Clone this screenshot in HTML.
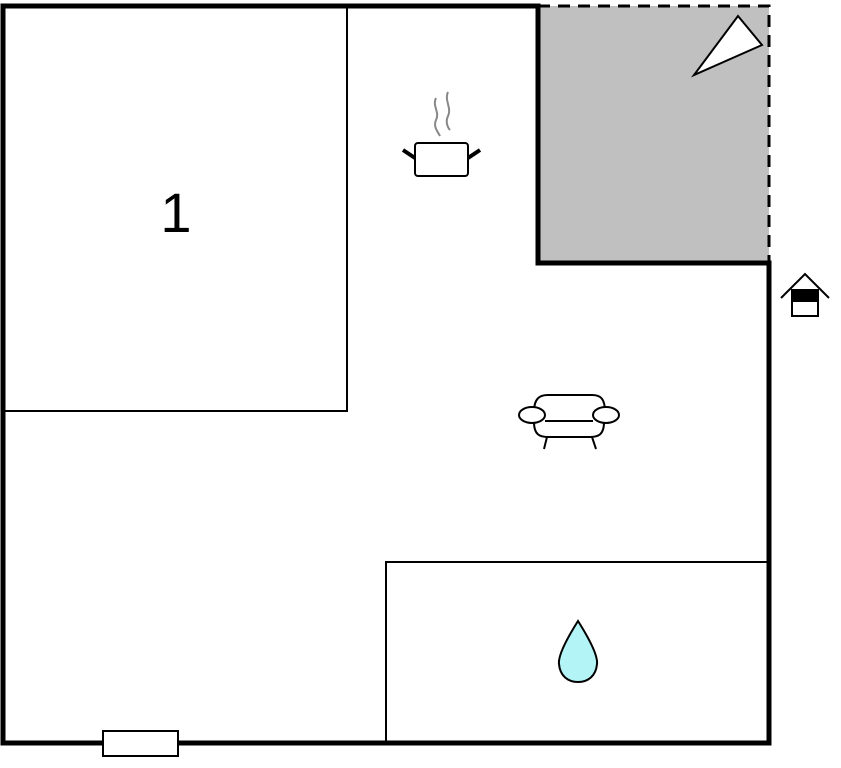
<!DOCTYPE html>
<html><head><style>body{margin:0;background:#fff}svg{display:block}</style></head><body>
<svg width="841" height="768" viewBox="0 0 841 768" xmlns="http://www.w3.org/2000/svg">
<rect x="538" y="6" width="231" height="257" fill="#c0c0c0"/>
<path d="M538 6 H769 V263" fill="none" stroke="#000" stroke-width="3" stroke-dasharray="12,8"/>
<path d="M3 6 H538 V263 H769 V743 H3 Z" fill="none" stroke="#000" stroke-width="5"/>
<rect x="4" y="7" width="343" height="404" fill="none" stroke="#000" stroke-width="2"/>
<path d="M386 743 V562 H769" fill="none" stroke="#000" stroke-width="2"/>
<text x="176" y="232" font-family="Liberation Sans, sans-serif" font-size="56" text-anchor="middle">1</text>
<rect x="103" y="731" width="75" height="25" fill="#fff" stroke="#000" stroke-width="2"/>
<path d="M578 621 C566 640 558 656 559 664 C560 676 568 682 578 682 C588 682 596 676 597 664 C598 656 590 640 578 621 Z" fill="#b3f5f7" stroke="#000" stroke-width="2"/>
<polygon points="738,16 762,45 694,75" fill="#fff" stroke="#000" stroke-width="2"/>
<path d="M781 298 L805 274 L829 298" fill="none" stroke="#000" stroke-width="2"/>
<rect x="792" y="290" width="26" height="26" fill="#fff" stroke="#000" stroke-width="2"/>
<rect x="792" y="290" width="26" height="12" fill="#000"/>
<rect x="415" y="143" width="53" height="33" rx="3" fill="#fff" stroke="#000" stroke-width="2"/>
<path d="M403 150 L415 158 M468 158 L480 150" stroke="#000" stroke-width="4"/>
<path d="M436 98 C432 106 440 112 436 120 C433 127 438 132 440 136 M448 92 C444 100 452 108 448 116 C445 122 448 128 450 130" fill="none" stroke="#888" stroke-width="2"/>
<g fill="none" stroke="#000" stroke-width="2">
<path d="M534 412 C534 398 540 395 548 395 H592 C600 395 605 398 605 412"/>
<ellipse cx="532" cy="415" rx="13" ry="8" fill="#fff"/>
<ellipse cx="606" cy="415" rx="13" ry="8" fill="#fff"/>
<path d="M545 421 H593"/>
<path d="M534 422 C534 435 540 437 548 437 H590 C598 437 604 435 604 422"/>
<path d="M547 437 L544 449 M592 437 L596 449"/>
</g>
</svg>
</body></html>
